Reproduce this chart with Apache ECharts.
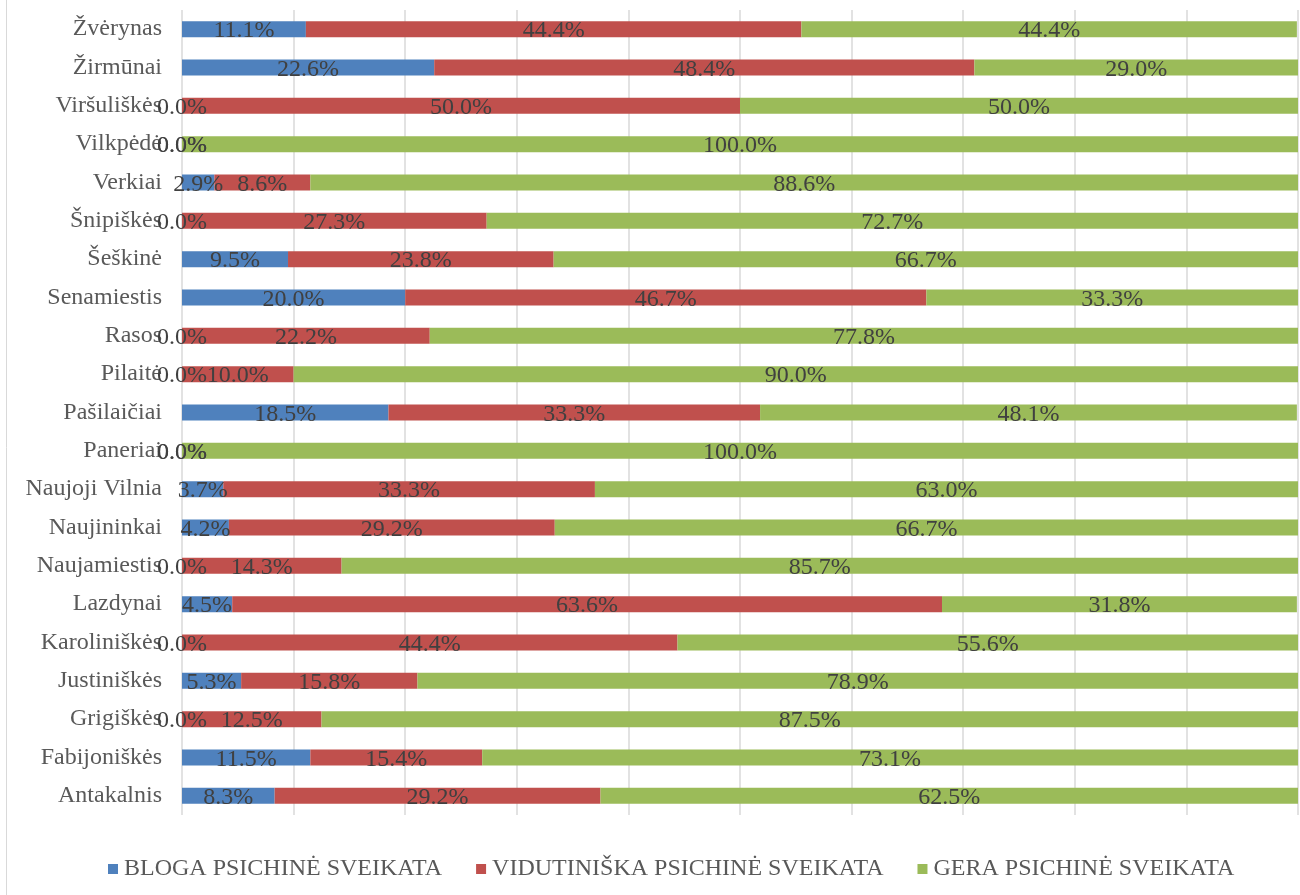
<!DOCTYPE html>
<html>
<head>
<meta charset="utf-8">
<script src="https://cdn.jsdelivr.net/npm/echarts@6/dist/echarts.min.js"></script>
<style>html,body{margin:0;padding:0;background:#fff;}#c{width:1300px;height:895px;}</style>
</head>
<body>
<div id="c"></div>
<script>
const categories = ["Antakalnis","Fabijoniškės","Grigiškės","Justiniškės","Karoliniškės","Lazdynai","Naujamiestis","Naujininkai","Naujoji Vilnia","Paneriai","Pašilaičiai","Pilaitė","Rasos","Senamiestis","Šeškinė","Šnipiškės","Verkiai","Vilkpėdė","Viršuliškės","Žirmūnai","Žvėrynas"];
const seriesNames = ["BLOGA PSICHINĖ SVEIKATA","VIDUTINIŠKA PSICHINĖ SVEIKATA","GERA PSICHINĖ SVEIKATA"];
const bloga =       [8.3, 11.5, 0.0, 5.3, 0.0, 4.5, 0.0, 4.2, 3.7, 0.0, 18.5, 0.0, 0.0, 20.0, 9.5, 0.0, 2.9, 0.0, 0.0, 22.6, 11.1];
const vidutiniska = [29.2, 15.4, 12.5, 15.8, 44.4, 63.6, 14.3, 29.2, 33.3, 0.0, 33.3, 10.0, 22.2, 46.7, 23.8, 27.3, 8.6, 0.0, 50.0, 48.4, 44.4];
const gera =        [62.5, 73.1, 87.5, 78.9, 55.6, 31.8, 85.7, 66.7, 63.0, 100.0, 48.1, 90.0, 77.8, 33.3, 66.7, 72.7, 88.6, 100.0, 50.0, 29.0, 44.4];
const colors = ["#4F81BD","#C0504D","#9BBB59"];
const font = "'Liberation Serif','Times New Roman',serif";

const chart = echarts.init(document.getElementById('c'), null, {renderer:'canvas'});
function mk(name, data, color){
  return {
    name: name, type: 'bar', stack: 'total', data: data, barWidth: 16,
    itemStyle: {color: color},
    label: {show: true, position: 'inside', offset:[0,2], color: '#404040', fontFamily: font, fontSize: 24,
      formatter: p => p.value.toFixed(1) + '%'},
    emphasis: {disabled: true}
  };
}
chart.setOption({
  animation: false,
  backgroundColor: '#fff',
  graphic: [{type:'rect', shape:{x:6.5, y:-5, width:1400, height:1000}, style:{fill:'none', stroke:'#d9d9d9', lineWidth:1}}],
  grid: {left: 182, right: 2, top: 10, bottom: 80},
  legend: {
    top: 852, left: 103, itemWidth: 10, itemHeight: 10, itemGap: 34,
    icon: 'rect',
    textStyle: {fontFamily: font, fontSize: 24, color: '#595959', padding:[0,0,0,1]},
    data: seriesNames
  },
  xAxis: {type: 'value', min: 0, max: 100, interval: 10,
    axisLabel: {show: false}, axisLine: {show: false}, axisTick: {show: false},
    splitLine: {lineStyle: {color: '#d9d9d9', width: 1.5}}},
  yAxis: {type: 'category', data: categories,
    axisLine: {show: false}, axisTick: {show: false},
    axisLabel: {fontFamily: font, fontSize: 24, color: '#595959', margin: 20}},
  series: [mk(seriesNames[0], bloga, colors[0]), mk(seriesNames[1], vidutiniska, colors[1]), mk(seriesNames[2], gera, colors[2])]
});
</script>
</body>
</html>
